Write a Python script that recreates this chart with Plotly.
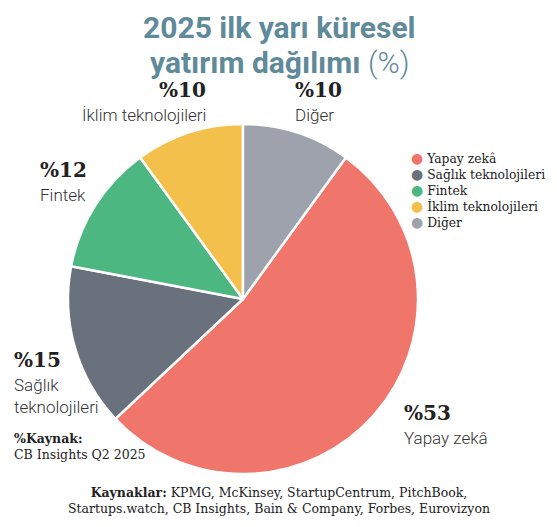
import plotly.graph_objects as go

W, H = 557, 527

# pie order follows the drawing order clockwise from the slice edge at 36 deg
labels = ["Yapay zekâ", "Sağlık teknolojileri", "Fintek", "İklim teknolojileri", "Diğer"]
values = [53, 15, 12, 10, 10]
colors = ["#F0756A", "#69717D", "#4CB781", "#F2C04B", "#9DA2AC"]

# callout text next to the pie
callout_pct = ["%53", "%15", "%12", "%10", "%10"]
callout_name = ["Yapay zekâ", "Sağlık<br>teknolojileri", "Fintek", "İklim teknolojileri", "Diğer"]

title_1 = "2025 ilk yarı küresel"
title_2 = "yatırım dağılımı"
source_1 = ["%Kaynak:", "CB Insights Q2 2025"]
source_2 = ("Kaynaklar:", "KPMG, McKinsey, StartupCentrum, PitchBook,<br>"
            "Startups.watch, CB Insights, Bain & Company, Forbes, Eurovizyon")


def px(x, y):
    return x / W, 1 - y / H


fig = go.Figure()

fig.add_trace(go.Pie(
    labels=labels, values=values, sort=False, direction="clockwise", rotation=36,
    marker=dict(colors=colors, line=dict(color="white", width=2.5)),
    textinfo="none", hoverinfo="label+percent", showlegend=False,
    domain=dict(x=[67 / W, 419 / W], y=[1 - 474 / H, 1 - 124 / H]),
))

ann = []
serif = "DejaVu Serif"
sans = "Roboto"

# callouts: (x, y of pct, anchor)
spots = [(402, 413, "left"), (12, 360, "left"), (38, 170, "left"), (208, 90, "right"), (293, 90, "left")]
for (x, y, anc), pct, name in zip(spots, callout_pct, callout_name):
    ax, ay = px(x, y)
    ann.append(dict(x=ax, y=ay, text="<b>%s</b>" % pct, xanchor=anc, yanchor="middle",
                    font=dict(family=serif, size=20, color="#222")))
    ann.append(dict(x=ax, y=ay - 13 / H, text=name, xanchor=anc, yanchor="top", align=anc,
                    font=dict(family=sans, size=17, color="#333", weight=300)))

# legend as a text block with round bullets
rows = ["<span style='color:%s;font-size:14px'>●</span> %s" % (c, l) for l, c in zip(labels, colors)]
lx, ly = px(409, 148)
ann.append(dict(x=lx, y=ly, text="<br>".join(rows), xanchor="left", yanchor="top", align="left",
                font=dict(family=serif, size=12.3, color="#222")))

tx, ty = px(279, 28)
ann.append(dict(x=tx, y=ty, text="<b>%s</b>" % title_1, xanchor="center", yanchor="middle",
                font=dict(family=sans, size=30, color="#5F8A9A")))
tx, ty = px(279, 62)
ann.append(dict(x=tx, y=ty, text="<b>%s</b> <span style='font-weight:300'>(%%)</span>" % title_2,
                xanchor="center", yanchor="middle",
                font=dict(family=sans, size=30, color="#5F8A9A")))

sx, sy = px(12, 429)
ann.append(dict(x=sx, y=sy, text="<b>%s</b><br>%s" % tuple(source_1), xanchor="left", yanchor="top",
                align="left", font=dict(family=serif, size=12.5, color="#222")))
sx, sy = px(279, 483)
ann.append(dict(x=sx, y=sy, text="<b>%s</b> %s" % source_2, xanchor="center", yanchor="top",
                align="center", font=dict(family=serif, size=12.5, color="#222")))

for a in ann:
    a.update(xref="paper", yref="paper", showarrow=False)

axis = dict(dtick=11, showgrid=True, gridcolor="white", gridwidth=1, zeroline=False,
            showticklabels=False, ticks="", fixedrange=True, automargin=False)
fig.update_layout(
    width=W, height=H,
    margin=dict(l=0, r=0, t=0, b=0, pad=0),
    paper_bgcolor="white",
    plot_bgcolor="#ECEDED",
    showlegend=False,
    xaxis=dict(range=[0, 546], domain=[4 / W, 550 / W], **axis),
    yaxis=dict(range=[518, 0], domain=[1 - 522 / H, 1 - 4 / H], **axis),
    annotations=ann,
)

# page has a default body margin; drop it so the figure sits at the window corner
fig.write_html("out.html", config={"displayModeBar": False},
               post_script="document.body.style.margin='0';"
                           "document.body.style.overflow='hidden';")
